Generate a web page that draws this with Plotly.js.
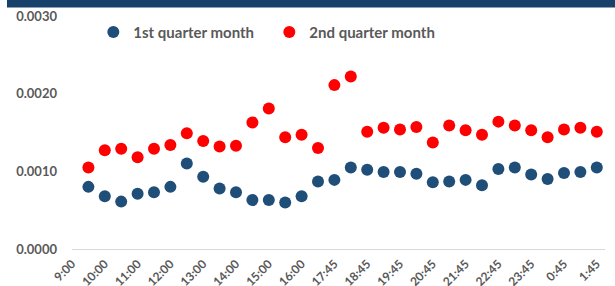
<!DOCTYPE html>
<html>
<head>
<meta charset="utf-8">
<script src="https://cdn.plot.ly/plotly-3.0.1.min.js"></script>
<style>
  html, body { margin: 0; padding: 0; background: #ffffff; }
  #chart { width: 615px; height: 286px; }
</style>
</head>
<body>
<div id="chart"></div>
<script>
// Values (32 time slots)
const firstQuarterMonth = [
  0.00080, 0.00068, 0.00061, 0.00071, 0.00073, 0.00080, 0.00110, 0.00093,
  0.00078, 0.00073, 0.00063, 0.00063, 0.00060, 0.00068, 0.00087, 0.00089,
  0.00105, 0.00102, 0.00099, 0.00099, 0.00097, 0.00086, 0.00087, 0.00089,
  0.00082, 0.00103, 0.00105, 0.00096, 0.00090, 0.00098, 0.00099, 0.00105
];
const secondQuarterMonth = [
  0.00105, 0.00127, 0.00129, 0.00118, 0.00129, 0.00134, 0.00149, 0.00139,
  0.00132, 0.00133, 0.00163, 0.00181, 0.00144, 0.00147, 0.00130, 0.00211,
  0.00222, 0.00151, 0.00156, 0.00154, 0.00157, 0.00137, 0.00159, 0.00153,
  0.00147, 0.00164, 0.00159, 0.00153, 0.00144, 0.00154, 0.00156, 0.00151
];
const tickLabels = [
  "9:00", "10:00", "11:00", "12:00", "13:00", "14:00", "15:00", "16:00",
  "17:45", "18:45", "19:45", "20:45", "21:45", "22:45", "23:45", "0:45", "1:45"
];
const seriesNames = ["1st quarter month", "2nd quarter month"];

const slots = firstQuarterMonth.map((_, i) => i);
const tickPositions = tickLabels.map((_, k) => 2 * k - 1.0);

const labelFont = { family: "Lato, 'Open Sans', sans-serif", size: 13, color: "#595959", weight: 700 };

const traces = [
  {
    x: slots, y: firstQuarterMonth, name: seriesNames[0],
    type: "scatter", mode: "markers",
    marker: { color: "#1F4E79", size: 12 },
    hoverinfo: "y"
  },
  {
    x: slots, y: secondQuarterMonth, name: seriesNames[1],
    type: "scatter", mode: "markers",
    marker: { color: "#FF0000", size: 12 },
    hoverinfo: "y"
  }
];

const layout = {
  width: 615, height: 286,
  margin: { l: 72, r: 10, t: 15.6, b: 37.4, pad: 0 },
  paper_bgcolor: "#ffffff",
  plot_bgcolor: "#ffffff",
  showlegend: true,
  legend: {
    orientation: "h",
    x: 0.04, xanchor: "left",
    y: 0.93, yanchor: "middle",
    entrywidth: 131, entrywidthmode: "pixels",
    font: { family: "Lato, 'Open Sans', sans-serif", size: 15, color: "#595959", weight: 700 },
    bgcolor: "rgba(0,0,0,0)"
  },
  xaxis: {
    range: [-1, 31.5],
    tickmode: "array",
    tickvals: tickPositions,
    ticktext: tickLabels,
    tickangle: -45,
    tickfont: { family: "Lato, 'Open Sans', sans-serif", size: 12, color: "#595959", weight: 700 },
    ticklabelstandoff: 2,
    showgrid: false,
    zeroline: false,
    showline: true,
    linecolor: "#D9D9D9",
    linewidth: 1.3,
    ticks: "",
    automargin: false,
    fixedrange: true
  },
  yaxis: {
    range: [0, 0.003],
    tickvals: [0, 0.001, 0.002, 0.003],
    tickformat: ".4f",
    tickfont: labelFont,
    showgrid: false,
    zeroline: false,
    showline: false,
    ticks: "",
    ticklabelstandoff: 14,
    automargin: false,
    fixedrange: true
  },
  shapes: [
    {
      type: "rect", xref: "paper", yref: "paper",
      x0: -0.122, x1: 1.02, y0: 1.036, y1: 1.08,
      fillcolor: "#17406B", line: { width: 0 }, layer: "above"
    }
  ]
};

Plotly.newPlot("chart", traces, layout, { displayModeBar: false, staticPlot: true });
</script>
</body>
</html>
